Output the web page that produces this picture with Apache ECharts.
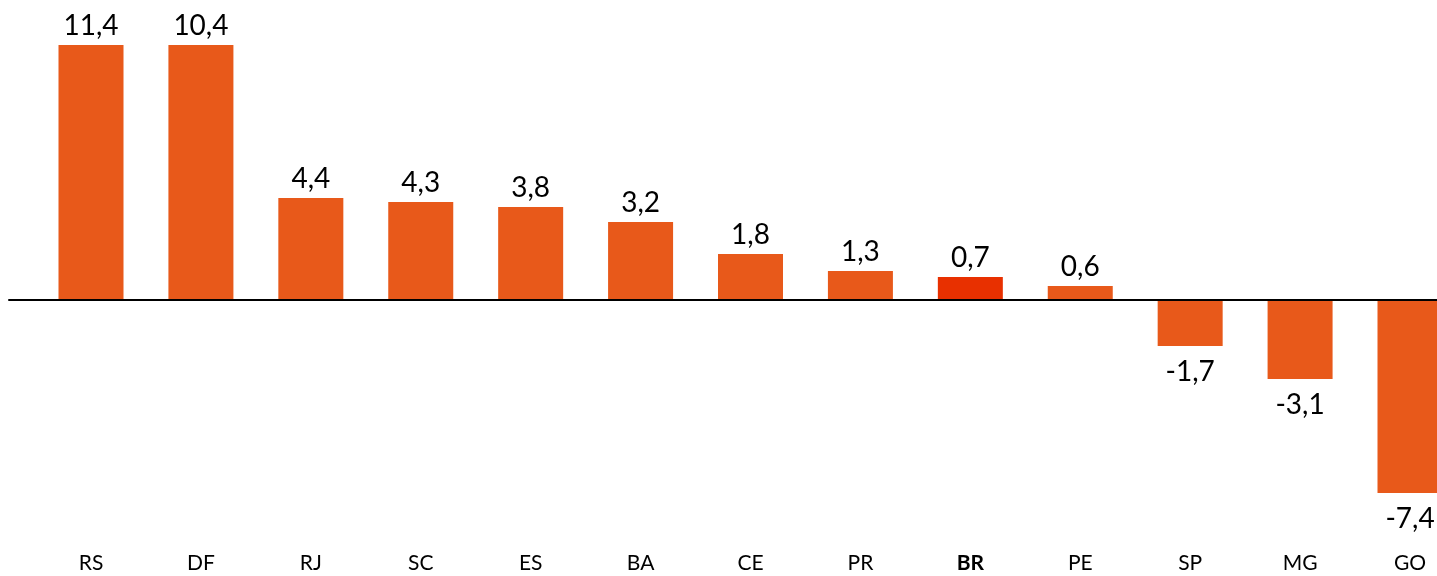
<!DOCTYPE html>
<html>
<head>
<meta charset="utf-8">
<script src="https://cdn.jsdelivr.net/npm/echarts@6/dist/echarts.min.js"></script>
<style>
  html, body { margin: 0; padding: 0; background: #fff; }
  #chart { width: 1437px; height: 576px; }
</style>
</head>
<body>
<div id="chart"></div>
<script>
// Categories (Brazilian states + BR total)
const categories = ['RS', 'DF', 'RJ', 'SC', 'ES', 'BA', 'CE', 'PR', 'BR', 'PE', 'SP', 'MG', 'GO'];
// Printed values (labels)
const labelValues = [11.4, 10.4, 4.4, 4.3, 3.8, 3.2, 1.8, 1.3, 0.7, 0.6, -1.7, -3.1, -7.4];
// Bar lengths as drawn in the picture (same units)
const barValues = [10.83, 10.83, 4.32, 4.15, 3.94, 3.30, 1.94, 1.21, 0.96, 0.57, -1.98, -3.38, -8.23];
// Highlighted category
const highlight = 'BR';

const ORANGE = '#E8591A';
const RED = '#E83000';
const FONT = 'Lato, "Open Sans", sans-serif';

const fmt = v => v.toFixed(1).replace('.', ',');

const seriesData = barValues.map((v, i) => ({
  value: v,
  itemStyle: { color: categories[i] === highlight ? RED : ORANGE },
  label: {
    position: v >= 0 ? 'top' : 'bottom',
    distance: v >= 0 ? 5 : 12,
    formatter: () => fmt(labelValues[i])
  }
}));

const chart = echarts.init(document.getElementById('chart'), null, { renderer: 'canvas' });
chart.setOption({
  animation: false,
  backgroundColor: '#ffffff',
  grid: [
    { left: 91, right: 27, top: 17.5, height: 517, containLabel: false },
    { left: 9, right: 0, top: 17.5, height: 517, containLabel: false }
  ],
  xAxis: [
    {
      type: 'category',
      gridIndex: 0,
      data: categories,
      boundaryGap: false,
      position: 'bottom',
      axisLine: { show: false, onZero: false },
      axisTick: { show: false },
      axisLabel: {
        interval: 0,
        margin: 18,
        fontFamily: FONT,
        fontSize: 21,
        color: '#000',
        formatter: v => v === highlight ? '{b|' + v + '}' : v,
        rich: { b: { fontFamily: FONT, fontSize: 21, fontWeight: 'bold', color: '#000' } }
      },
      splitLine: { show: false }
    },
    {
      type: 'value',
      gridIndex: 1,
      min: 0,
      max: 1,
      z: 5,
      axisLine: { show: true, onZero: true, lineStyle: { color: '#000', width: 2 } },
      axisTick: { show: false },
      axisLabel: { show: false },
      splitLine: { show: false }
    }
  ],
  yAxis: [
    { type: 'value', gridIndex: 0, min: -10, max: 12, show: false, splitLine: { show: false } },
    { type: 'value', gridIndex: 1, min: -10, max: 12, show: false, splitLine: { show: false } }
  ],
  series: [
    {
      type: 'bar',
      xAxisIndex: 0,
      yAxisIndex: 0,
      barWidth: 65,
      data: seriesData,
      label: {
        show: true,
        fontFamily: FONT,
        fontSize: 28,
        color: '#000'
      }
    }
  ]
});
</script>
</body>
</html>
